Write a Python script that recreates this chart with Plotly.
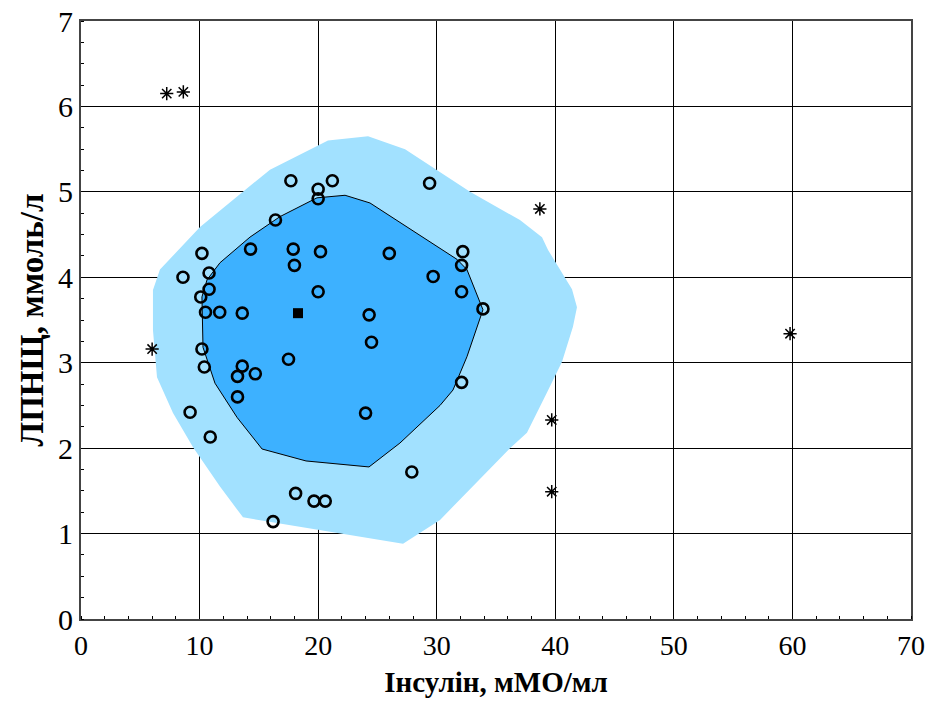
import plotly.graph_objects as go

# Observations (circles)
circle_x = [16.2, 18.1, 19.65, 20.6, 27.9, 9.2, 10.9, 13.2, 13.2, 13.6, 14.7, 10.4, 10.2,
            17.5, 24.0, 24.5, 24.3, 32.1, 33.9, 32.1, 29.7, 32.1, 32.2, 26.0, 20.2, 20.0,
            18.0, 17.9, 14.3, 16.4, 20.0, 20.0, 17.7, 21.2, 29.4, 8.6, 10.2, 10.8, 10.8,
            10.1, 10.5, 11.7, 13.6]
circle_y = [1.14, 1.47, 1.38, 1.38, 1.72, 2.42, 2.13, 2.60, 2.84, 2.96, 2.87, 2.95, 3.16,
            3.04, 2.41, 3.24, 3.56, 2.77, 3.63, 3.83, 4.01, 4.14, 4.30, 4.28, 4.30, 3.83,
            4.14, 4.33, 4.33, 4.67, 4.92, 5.03, 5.13, 5.13, 5.10, 4.00, 4.28, 4.05, 3.86,
            3.77, 3.59, 3.59, 3.58]

# Outliers (asterisks)
outlier_x = [7.23, 8.63, 6.0, 38.7, 59.8, 39.7, 39.7]
outlier_y = [6.15, 6.17, 3.16, 4.80, 3.34, 2.33, 1.49]

# Median (square)
median_x = [18.3]
median_y = [3.58]

# Outer hull (light blue)
outer_x = [24.21, 27.33, 32.81, 37.02, 38.88, 39.39, 41.41, 41.83, 41.49, 40.57, 39.30,
           37.61, 36.18, 30.28, 27.16, 13.66, 11.72, 9.45, 7.76, 6.41, 6.07, 6.07, 6.66,
           10.04, 15.94, 20.83]
outer_y = [5.65, 5.50, 5.00, 4.67, 4.47, 4.32, 3.86, 3.65, 3.42, 3.01, 2.65, 2.18, 2.00,
           1.16, 0.88, 1.19, 1.55, 2.01, 2.41, 2.83, 3.38, 3.85, 4.09, 4.59, 5.26, 5.60]

# Inner hull (darker blue, outlined)
inner_x = [22.27, 24.37, 31.71, 32.55, 33.90, 32.55, 31.37, 30.28, 26.90, 24.29, 18.98,
           15.27, 13.16, 11.30, 10.29, 10.20, 10.20, 10.63, 11.72, 14.25, 16.78, 19.90]
inner_y = [4.96, 4.87, 4.21, 4.09, 3.62, 3.07, 2.68, 2.50, 2.06, 1.78, 1.85, 1.99, 2.36,
           2.76, 3.18, 3.58, 3.77, 3.97, 4.17, 4.47, 4.71, 4.93]

x_ticks = [0, 10, 20, 30, 40, 50, 60, 70]
y_ticks = [0, 1, 2, 3, 4, 5, 6, 7]

fig = go.Figure()
fig.add_trace(go.Scatter(x=outer_x + [outer_x[0]], y=outer_y + [outer_y[0]], fill="toself",
                         fillcolor="#a2e1ff", mode="lines", line=dict(width=0, color="#a2e1ff"),
                         hoverinfo="skip"))
fig.add_trace(go.Scatter(x=inner_x + [inner_x[0]], y=inner_y + [inner_y[0]], fill="toself",
                         fillcolor="#3db1ff", mode="lines", line=dict(width=1, color="black"),
                         hoverinfo="skip"))
fig.add_trace(go.Scatter(x=circle_x, y=circle_y, mode="markers",
                         marker=dict(symbol="circle-open", size=11, color="black",
                                     line=dict(width=2.6, color="black"))))
fig.add_trace(go.Scatter(x=outlier_x, y=outlier_y, mode="markers",
                         marker=dict(symbol="asterisk-open", size=11, color="black",
                                     line=dict(width=1.5, color="black"))))
fig.add_trace(go.Scatter(x=median_x, y=median_y, mode="markers",
                         marker=dict(symbol="square", size=10, color="black")))

axis_common = dict(showgrid=True, gridcolor="black", gridwidth=1, zeroline=False,
                   showline=True, mirror=True, linecolor="#444444", linewidth=2,
                   ticks="", tickcolor="black", automargin=False)

fig.update_xaxes(range=[0, 70], tickvals=x_ticks, ticktext=[str(v) for v in x_ticks],
                 tickfont=dict(family="Liberation Serif", size=28, color="black"),
                 title=dict(text="<b>Інсулін, мМО/мл</b>", standoff=12,
                            font=dict(family="Liberation Serif", size=29, color="black")),
                 minor=dict(dtick=2, tick0=0, ticks="inside", ticklen=3, tickcolor="black",
                            showgrid=False),
                 **axis_common)
fig.update_yaxes(range=[0, 7], tickvals=y_ticks, ticktext=[str(v) for v in y_ticks],
                 tickfont=dict(family="Liberation Serif", size=30, color="black"),
                 title=dict(text="<b>ЛПНЩ, ммоль/л</b>", standoff=4,
                            font=dict(family="Liberation Serif", size=33, color="black")),
                 minor=dict(dtick=0.25, tick0=0, ticks="inside", ticklen=3, tickcolor="black",
                            showgrid=False),
                 **axis_common)

fig.update_layout(width=935, height=701, showlegend=False,
                  margin=dict(l=81, r=24, t=21, b=82),
                  plot_bgcolor="white", paper_bgcolor="white")

fig.write_html("out.html")
